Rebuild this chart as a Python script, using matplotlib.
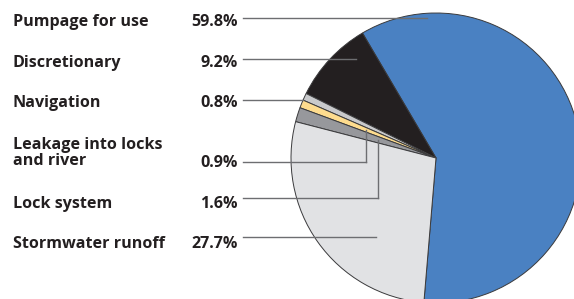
import numpy as np
import matplotlib
matplotlib.use('Agg')
import matplotlib.pyplot as plt

# shares of water use, in legend order (top to bottom)
labels = ['Pumpage for use', 'Discretionary', 'Navigation',
          'Leakage into locks\nand river', 'Lock system', 'Stormwater runoff']
shares = [59.8, 9.2, 0.8, 0.9, 1.6, 27.7]
colors = ['#4a81c2', '#231f20', '#c9cacc', '#fedc8e', '#97989c', '#e1e2e4']

W, H = 574, 299
cx, cy, rad = 436, H - 158, 145
start = -94.8

text_y = [22, 63, 103, 153, 204, 244]     # label rows (image px from top)
pct_y = [22, 63, 103, 163, 204, 244]
line_y = [18, 59, 100, 162, 198, 237]     # leader rows
line_end = [427, 356, None, 366, 378, 376]  # where the horizontal leaders stop
elbow = [False, False, False, True, True, False]

plt.rcParams['font.family'] = ['Open Sans', 'DejaVu Sans']
fig = plt.figure(figsize=(W / 100, H / 100), dpi=100)
ax = fig.add_axes([0, 0, 1, 1])

wedges, _ = ax.pie(shares, colors=colors, startangle=start, counterclock=True,
                   center=(cx, cy), radius=rad, frame=True,
                   wedgeprops=dict(edgecolor='#3a3a3c', linewidth=0.7))
ax.set_xlim(0, W)
ax.set_ylim(0, H)
ax.set_aspect('equal')
ax.axis('off')

ink = '#231f20'
lc = '#6d6e71'
fs = 11.6
for i, lab in enumerate(labels):
    ax.text(13, H - text_y[i], lab, ha='left', va='center', fontsize=fs,
            fontweight='bold', color=ink, linespacing=0.98)
    ax.text(238, H - pct_y[i], f'{shares[i]:.1f}%', ha='right', va='center',
            fontsize=fs, fontweight='bold', color=ink)
    ly = H - line_y[i]
    if line_end[i] is None:
        # run to the rim of the pie
        xe = cx - np.sqrt(rad ** 2 - (ly - cy) ** 2)
    else:
        xe = line_end[i]
    ax.plot([243, xe], [ly, ly], color=lc, lw=1)
    if elbow[i]:
        w = wedges[i]
        mid = np.radians((w.theta1 + w.theta2) / 2)
        r = (xe - cx) / np.cos(mid)
        ax.plot([xe, xe], [ly, cy + r * np.sin(mid)], color=lc, lw=1)

fig.savefig('out.png', dpi=100)
